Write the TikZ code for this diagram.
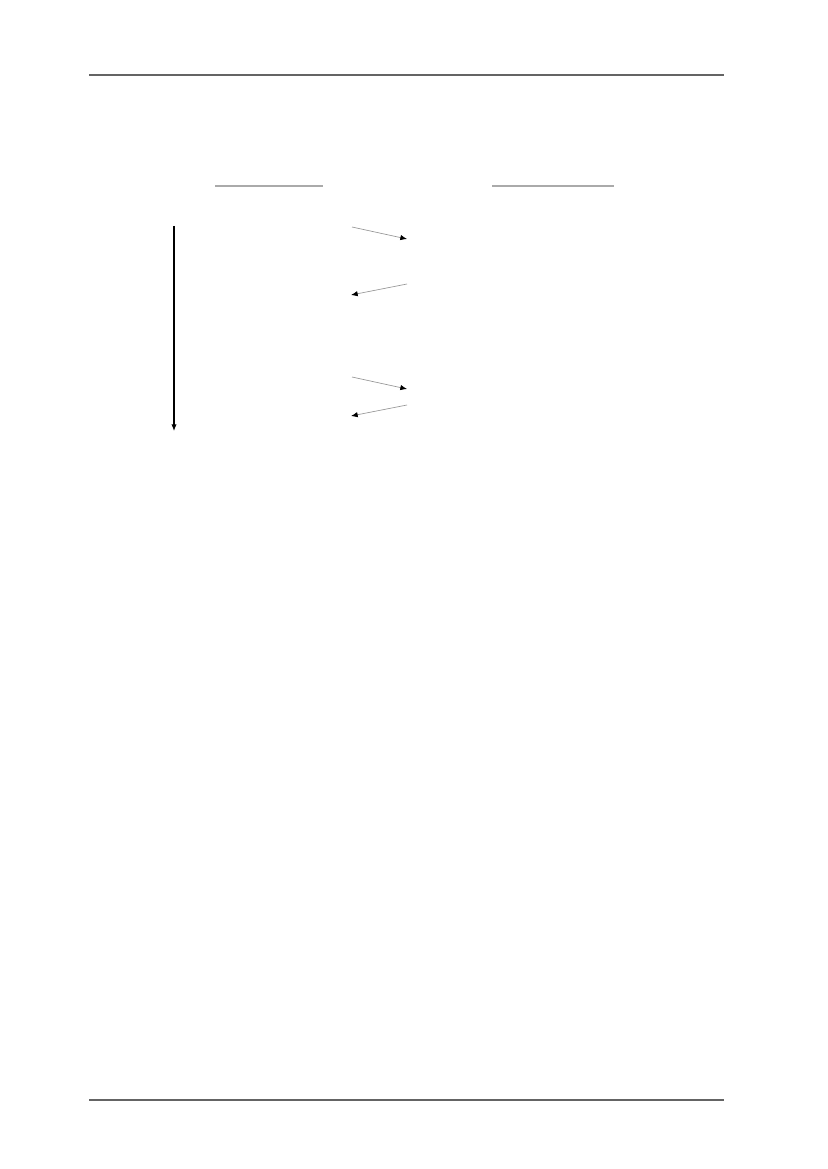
\documentclass[tikz,border=0pt]{standalone}
\usepackage{tikz}
\usetikzlibrary{arrows.meta}

\begin{document}
\begin{tikzpicture}[x=0.75pt,y=0.75pt,yscale=-1,xscale=1,
  rulestyle/.style={draw={rgb,255:red,100;green,100;blue,100},line width=1.2pt},
  headline/.style={draw={rgb,255:red,170;green,170;blue,170},line width=1.1pt},
  msg/.style={draw={rgb,255:red,150;green,150;blue,150},line width=0.5pt,-{Latex[length=5pt,width=4pt,black]}}]
\useasboundingbox (0,0) rectangle (827,1169);

%Page rules
\coordinate (topL) at (89,75);
\coordinate (topR) at (724,75);
\coordinate (botL) at (89,1100);
\coordinate (botR) at (724,1100);
\draw [rulestyle] (topL) -- (topR);
\draw [rulestyle] (botL) -- (botR);

%Column heads
\coordinate (hAL) at (215,186);
\coordinate (hAR) at (323,186);
\coordinate (hBL) at (492,186);
\coordinate (hBR) at (614,186);
\draw [headline] (hAL) -- (hAR);
\draw [headline] (hBL) -- (hBR);

%Time axis
\coordinate (tTop) at (174,226);
\coordinate (tBot) at (174,431);
\draw [line width=0.8pt,-{Latex[length=5pt,width=4pt]}] (tTop) -- (tBot);

%Messages
\coordinate (a1) at (352,227);
\coordinate (b1) at (407,239);
\coordinate (b2) at (407,284);
\coordinate (a2) at (351,295);
\coordinate (a3) at (352,377);
\coordinate (b3) at (407,389);
\coordinate (b4) at (407,405);
\coordinate (a4) at (351,416);
\draw [msg] (a1) -- (b1);
\draw [msg] (b2) -- (a2);
\draw [msg] (a3) -- (b3);
\draw [msg] (b4) -- (a4);

\end{tikzpicture}
\end{document}
